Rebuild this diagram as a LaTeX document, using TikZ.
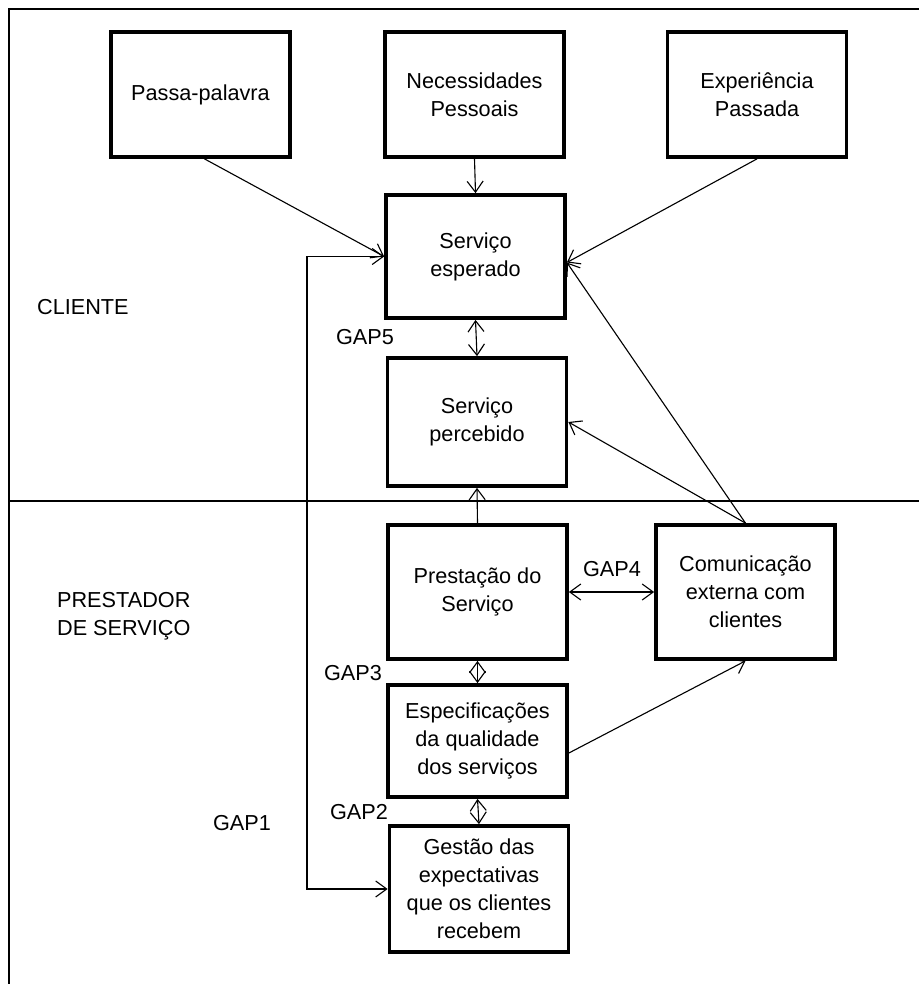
\documentclass[tikz,border=0pt]{standalone}
\usepackage{fontspec}
\setmainfont{Liberation Sans}
\usetikzlibrary{arrows.meta,calc,positioning}

\begin{document}
\begin{tikzpicture}[x=0.03cm,y=-0.03cm,>={Straight Barb[length=0.33cm,width=0.48cm]},
  font=\fontsize{18.5}{23.8}\selectfont,
  caixa/.style={draw,line width=3.2pt,minimum width=5.37cm,align=center,inner sep=2pt},
  seta/.style={->,line width=0.95pt},
  dupla/.style={<->,line width=0.95pt}]
  \useasboundingbox (0,0) rectangle (919,984);
  % moldura e divisao cliente / prestador
  \draw[line width=1.7pt] (9,984) -- (9,9) -- (919,9);
  \draw[line width=2.5pt] (9,501) -- (919,501);
  \node[anchor=west] (cliente) at (33,307) {CLIENTE};
  \node[anchor=west,align=left] (prestador) at (53,616) {PRESTADOR\\DE SERVIÇO};
  % lado do cliente
  \node[caixa,minimum height=3.75cm] (passa) at (200.5,94.5) {Passa-palavra};
  \node[caixa,minimum height=3.75cm] (necess) at (474.5,94.5) {Necessidades\\Pessoais};
  \node[caixa,minimum height=3.75cm] (exper) at (757,94.5) {Experiência\\Passada};
  \node[caixa,minimum height=3.69cm] (esperado) at (475.5,256.5) {Serviço\\esperado};
  \node[caixa,minimum height=3.84cm] (percebido) at (477,422) {Serviço\\percebido};
  % lado do prestador
  \node[caixa,minimum height=4.02cm] (prestacao) at (477.5,592) {Prestação do\\Serviço};
  \node[caixa,minimum height=4.02cm] (comunic) at (745.5,592) {Comunicação\\externa com\\clientes};
  \node[caixa,minimum height=3.36cm] (especif) at (477.5,741) {Especificações\\da qualidade\\dos serviços};
  \node[caixa,minimum height=3.78cm] (gestao) at (479,889) {Gestão das\\expectativas\\que os clientes\\recebem};
  % setas
  \draw[seta] ($(passa.south)+(4,0)$) -- (esperado.west);
  \draw[seta] (necess.south) -- (esperado.north);
  \draw[seta] (exper.south) -- ($(esperado.east)+(0,6)$);
  \draw[seta] (prestacao.north) -- (percebido.south);
  \draw[seta] (comunic.north) -- ($(esperado.east)+(0,6)$);
  \draw[seta] (comunic.north) -- (percebido.east);
  \draw[seta] ($(especif.east)+(0,12)$) -- (comunic.south);
  % gaps
  \draw[dupla] (esperado.south) -- (percebido.north);
  \draw[dupla] (prestacao.east) -- (comunic.west);
  \draw[dupla] (prestacao.south) -- (especif.north);
  \draw[dupla] (especif.south) -- (gestao.north);
  \coordinate (gap1line) at (307,0);
  \draw[dupla] (esperado.west) -| (gap1line |- gestao.west) -- (gestao.west);
  \node (gap5) at (365,337) {GAP5};
  \node (gap4) at (612,569) {GAP4};
  \node (gap3) at (353,673) {GAP3};
  \node (gap2) at (359,812) {GAP2};
  \node (gap1) at (242,823) {GAP1};
\end{tikzpicture}
\end{document}
